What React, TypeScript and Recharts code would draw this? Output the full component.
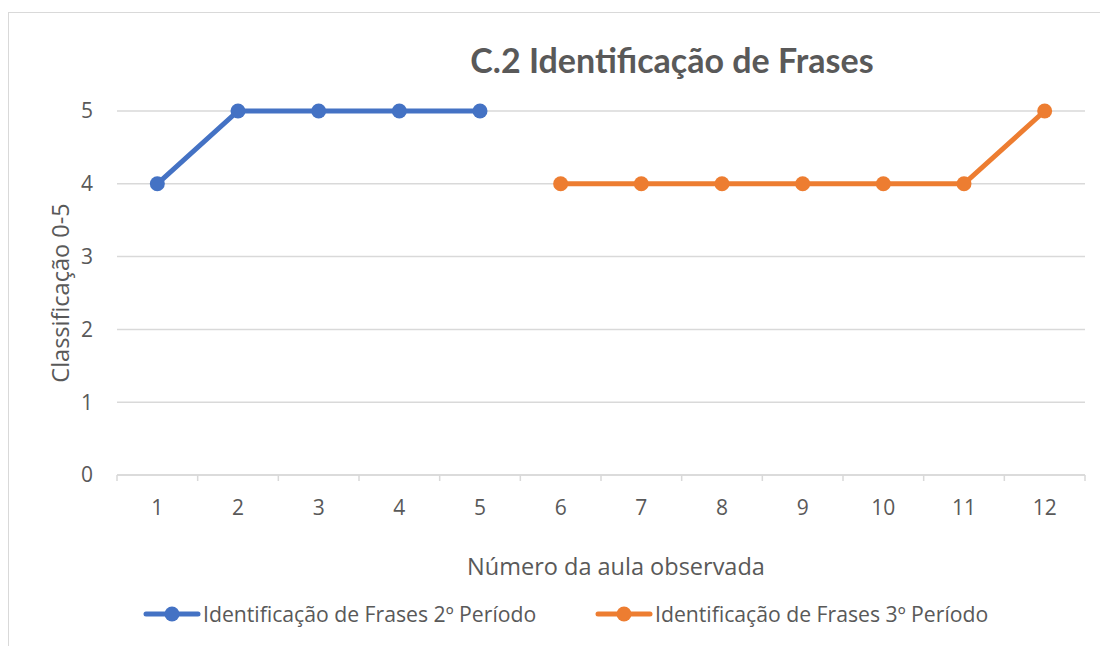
import React from 'react';
import { LineChart, Line, XAxis, YAxis, CartesianGrid } from 'recharts';

const aulas = ['1', '2', '3', '4', '5', '6', '7', '8', '9', '10', '11', '12'];
const periodo2 = [4, 5, 5, 5, 5, null, null, null, null, null, null, null];
const periodo3 = [null, null, null, null, null, 4, 4, 4, 4, 4, 4, 5];
const yTicks = [0, 1, 2, 3, 4, 5];

const SERIES = [
  { key: 'p2', name: 'Identificação de Frases 2º Período', color: '#4472C4', legendLeft: 143 },
  { key: 'p3', name: 'Identificação de Frases 3º Período', color: '#ED7D31', legendLeft: 595 },
];

const data = aulas.map((a, i) => ({ aula: a, p2: periodo2[i], p3: periodo3[i] }));

const W = 1100;
const H = 646;
const MARGIN = { top: 111, right: 15, bottom: 141, left: 30 };
const Y_AXIS_W = 87;
const BAND = (W - MARGIN.left - Y_AXIS_W - MARGIN.right) / aulas.length;
const FONT = '"Open Sans", "Noto Sans", sans-serif';
const TITLE_FONT = 'Lato, Carlito, Calibri, sans-serif';
const GRID = '#d9d9d9';
const TEXT = '#595959';
const TICK_SIZE = 6;
const TICK_MARGIN = 18;

// ticks de estilo Excel: marcas nas fronteiras das categorias
const XTick = (props: any) => {
  const { x, y, payload, index } = props;
  const axisY = y - TICK_SIZE - TICK_MARGIN;
  const left = x - BAND / 2;
  const right = x + BAND / 2;
  return (
    <g>
      <line x1={left} x2={left} y1={axisY} y2={axisY + TICK_SIZE} stroke={GRID} strokeWidth={1.5} />
      {index === aulas.length - 1 && (
        <line x1={right} x2={right} y1={axisY} y2={axisY + TICK_SIZE} stroke={GRID} strokeWidth={1.5} />
      )}
      <text x={x} y={y + 1} dy="0.71em" textAnchor="middle" fill={TEXT} fontSize={21} fontFamily={FONT}>
        {payload.value}
      </text>
    </g>
  );
};

const LegendItem = ({ color, name, left }: { color: string; name: string; left: number }) => (
  <div style={{ position: 'absolute', left, top: 601, display: 'flex', alignItems: 'center', fontSize: 21.2, color: TEXT }}>
    <svg width={58} height={24}>
      <line x1={3} x2={55} y1={12} y2={12} stroke={color} strokeWidth={5} strokeLinecap="round" />
      <circle cx={29} cy={12} r={7.5} fill={color} />
    </svg>
    <span style={{ marginLeft: 2, lineHeight: '26px' }}>{name}</span>
  </div>
);

export default function App() {
  return (
    <div style={{ position: 'absolute', left: 0, top: 0, width: W, height: H, overflow: 'hidden', background: '#fff', fontFamily: FONT }}>
      <div style={{ position: 'absolute', left: 8, top: 12, width: 1120, height: 700, border: `1px solid ${GRID}` }} />
      <LineChart width={W} height={H} data={data} margin={MARGIN}>
        <CartesianGrid vertical={false} stroke={GRID} strokeWidth={1.5} />
        <XAxis
          dataKey="aula"
          scale="band"
          stroke={GRID}
          strokeWidth={1.5}
          tickLine={false}
          tickSize={TICK_SIZE}
          tickMargin={TICK_MARGIN}
          tick={<XTick />}
          interval={0}
          height={30}
        />
        <YAxis
          width={Y_AXIS_W}
          domain={[0, 5]}
          ticks={yTicks}
          axisLine={false}
          tickLine={false}
          tickSize={TICK_SIZE}
          tickMargin={TICK_MARGIN}
          tick={{ fill: TEXT, fontSize: 21, fontFamily: FONT }}
        />
        {SERIES.map((s) => (
          <Line
            key={s.key}
            dataKey={s.key}
            name={s.name}
            stroke={s.color}
            strokeWidth={5}
            dot={{ r: 7.5, fill: s.color, stroke: s.color, strokeWidth: 0 }}
            connectNulls={false}
            isAnimationActive={false}
          />
        ))}
      </LineChart>
      <div style={{ position: 'absolute', left: 372, width: 600, top: 39, textAlign: 'center', fontSize: 34, fontWeight: 700, color: TEXT, fontFamily: TITLE_FONT }}>
        C.2 Identificação de Frases
      </div>
      <div
        style={{
          position: 'absolute', left: 60, top: 293, width: 300, textAlign: 'center', fontSize: 23.5, color: TEXT,
          transform: 'translate(-50%, -50%) rotate(-90deg)', lineHeight: '26px',
        }}
      >
        Classificação 0-5
      </div>
      <div style={{ position: 'absolute', left: 416, width: 400, top: 550, textAlign: 'center', fontSize: 23.5, color: TEXT }}>
        Número da aula observada
      </div>
      {SERIES.map((s) => (
        <LegendItem key={s.key} color={s.color} name={s.name} left={s.legendLeft} />
      ))}
    </div>
  );
}
